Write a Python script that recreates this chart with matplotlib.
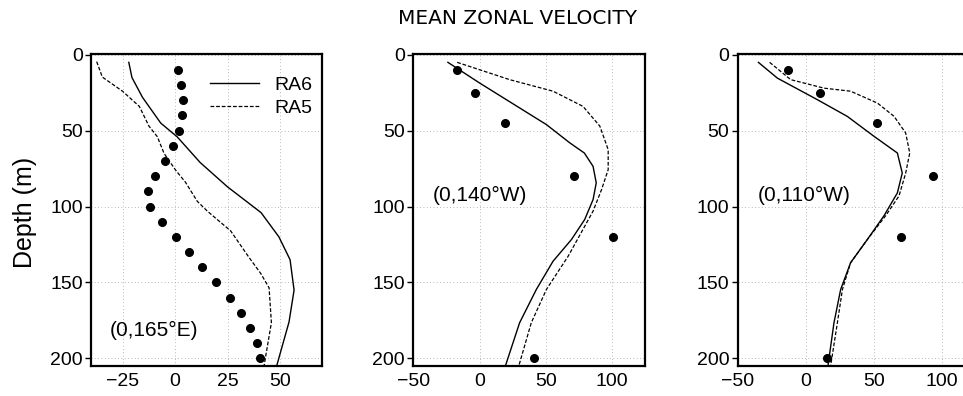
import matplotlib
matplotlib.use("Agg")
import matplotlib.pyplot as plt

plt.rcParams['font.family'] = ['Liberation Sans', 'DejaVu Sans']

# ---- data ----
obs_depth_165e = [10, 20, 30, 40, 50, 60, 70, 80, 90, 100, 110, 120, 130, 140, 150, 160, 170, 180, 190, 200]
obs_u_165e = [1.6, 3, 4, 3.3, 2, -1, -5, -9.5, -13, -12, -6, 0.6, 6.5, 12.7, 19.4, 26.2, 31.6, 35.9, 39, 40.3]
ra6_depth_165e = [5, 15, 28, 45, 54, 71, 87, 104, 120, 135, 155, 176, 205]
ra6_u_165e = [-22, -20.5, -15.5, -6.8, 1, 12, 25, 41, 49.5, 54.8, 56.7, 54.3, 48.4]
ra5_depth_165e = [4.5, 14.7, 24, 34, 47, 54, 65, 76, 84, 96.5, 103, 116, 133, 144, 153.5, 176.5, 205]
ra5_u_165e = [-37.3, -34.6, -25, -17, -12.4, -8.4, -5.2, 0.3, 5, 10.6, 15.4, 26.5, 35, 40.8, 44.8, 45.9, 42.4]

obs_depth_140w = [10, 25, 45, 80, 120, 200]
obs_u_140w = [-17.4, -3.3, 19.1, 71, 100.5, 40.8]
ra6_depth_140w = [5, 18.6, 46, 58, 64.7, 73.5, 84.4, 95.4, 108.5, 121.7, 136, 154.6, 176.5, 204.6]
ra6_u_140w = [-23.9, 0, 50.4, 68, 79, 85.6, 88, 85.6, 79.3, 69.3, 55.4, 42.8, 30.2, 19.6]
ra5_depth_140w = [5, 16.4, 24, 34, 47, 62.5, 75.7, 88.8, 103, 115, 132.7, 154.6, 176.5, 204.6]
ra5_u_140w = [-16.9, 22.7, 55.4, 78, 90.7, 97, 97, 92, 85.6, 78, 66.8, 50.4, 39, 29.7]

obs_depth_110w = [10, 25, 45, 80, 120, 200]
obs_u_110w = [-12.7, 10.3, 52.7, 93.4, 70.3, 15.9]
ra6_depth_110w = [5, 15.4, 29.6, 40.6, 53.7, 64.7, 77.9, 91, 106, 121.7, 137, 154.6, 176.5, 204.6]
ra6_u_110w = [-34.8, -20.8, 8.6, 30.6, 50.2, 67.4, 71, 67.4, 57.6, 45.3, 33, 25.7, 20.8, 16.4]
ra5_depth_110w = [5, 16.4, 22, 24, 31.8, 40.6, 51.5, 64.7, 78, 93, 106, 121.7, 137, 154.6, 176.5, 204.6]
ra5_u_110w = [-26.5, -11, 13.5, 33, 52.7, 65, 73.5, 76.5, 73.5, 68.6, 58.8, 45.3, 33, 27, 23.3, 18.4]

labels = ["(0,165°E)", "(0,140°W)", "(0,110°W)"]
x_ticks = [[-25, 0, 25, 50], [-50, 0, 50, 100], [-50, 0, 50, 100]]
x_lims = [(-40, 70), (-50, 125), (-50, 125)]
y_ticks = [0, 50, 100, 150, 200]

panels = [
    (obs_depth_165e, obs_u_165e, ra6_depth_165e, ra6_u_165e, ra5_depth_165e, ra5_u_165e),
    (obs_depth_140w, obs_u_140w, ra6_depth_140w, ra6_u_140w, ra5_depth_140w, ra5_u_140w),
    (obs_depth_110w, obs_u_110w, ra6_depth_110w, ra6_u_110w, ra5_depth_110w, ra5_u_110w),
]

fig = plt.figure(figsize=(9.63, 3.96), dpi=100)
positions = [
    [91 / 963, 1 - 366 / 396, 231 / 963, 312 / 396],
    [413.3 / 963, 1 - 366 / 396, 232 / 963, 312 / 396],
    [737.7 / 963, 1 - 366 / 396, 238 / 963, 312 / 396],
]
label_pos = [(0.082, 0.115), (0.085, 0.545), (0.085, 0.545)]

for i, (pos, data) in enumerate(zip(positions, panels)):
    od, ou, d6, u6, d5, u5 = data
    ax = fig.add_axes(pos)
    ax.plot(u6, d6, color='black', lw=1.0, ls='-', label='RA6')
    ax.plot(u5, d5, color='black', lw=0.9, ls=(0, (3, 1.5)), label='RA5')
    ax.plot(ou, od, 'o', color='black', ms=5.5, ls='none')
    ax.set_xlim(*x_lims[i])
    ax.set_ylim(205, -0.5)
    ax.set_xticks(x_ticks[i])
    ax.set_yticks(y_ticks)
    ax.grid(True, color='#a0a0a0', ls=(0, (1, 3)), lw=0.6)
    for s in ax.spines.values():
        s.set_linewidth(1.6)
    ax.tick_params(axis='y', direction='out', length=4, width=1, labelsize=14, pad=2)
    ax.tick_params(axis='x', direction='out', length=0, labelsize=14, pad=5)
    ax.text(label_pos[i][0], label_pos[i][1], labels[i], transform=ax.transAxes,
            fontsize=15, ha='left', va='center')
    if i == 0:
        ax.legend(loc='upper right', frameon=False, fontsize=14,
                  handlelength=2.5, bbox_to_anchor=(1.035, 0.985), labelspacing=0.3,
                  handletextpad=0.8)

fig.text(25 / 963, 1 - 212 / 396, 'Depth (m)', rotation=90, ha='center', va='center',
         fontsize=18)
fig.text(517 / 963, 1 - 19 / 396, 'MEAN ZONAL VELOCITY', ha='center', va='center',
         fontsize=14.5, family=['DejaVu Sans'])

fig.savefig('out.png', dpi=100)
